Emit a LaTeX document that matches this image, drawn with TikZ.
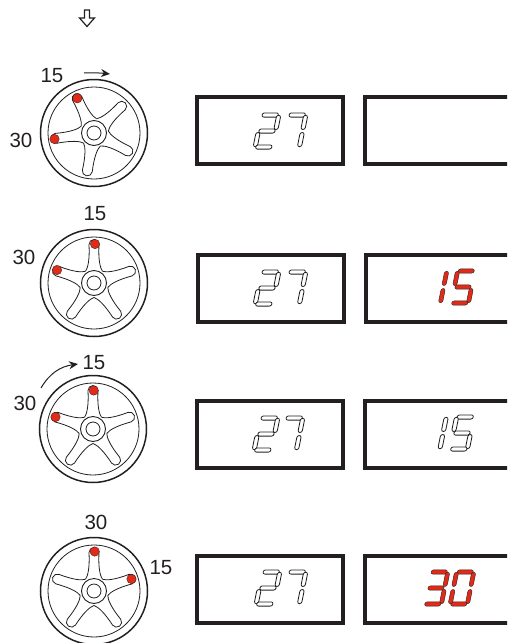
\documentclass[tikz,border=0pt]{standalone}
\usepackage{fontspec}
\setmainfont{Liberation Sans}
\usetikzlibrary{arrows.meta}
\definecolor{ledred}{RGB}{226,42,24}
\definecolor{inkdark}{RGB}{35,31,32}
% segments of one digit, around its centre
\def\hseg#1{(-6,#1) -- ++(12,0) arc[start angle=-90, end angle=90, radius=2.1] -- ++(-12,0) arc[start angle=90, end angle=270, radius=2.1] -- cycle}
\def\vseg#1#2{(#1,#2) arc[start angle=180, end angle=360, radius=2.1] -- ++(0,10) arc[start angle=0, end angle=180, radius=2.1] -- cycle}
\def\sega{\hseg{13.9}}
\def\segb{\vseg{6.5}{3.6}}
\def\segc{\vseg{6.5}{-13.6}}
\def\segd{\hseg{-18.1}}
\def\sege{\vseg{-10.7}{-13.6}}
\def\segf{\vseg{-10.7}{3.6}}
\def\segg{\hseg{-2.1}}
\tikzset{
    pics/wheel/.style={code={
        \draw[inkdark, line width=1.5pt] (0,0) circle (53.5);
        \draw[inkdark, line width=.8pt] (0,0) circle (46);
        \draw[inkdark, line width=.9pt] (0,0) circle (12.5);
        \draw[inkdark, line width=.8pt] (0,0) circle (7);
        \foreach \spoke in {0,72,...,288}{
            \draw[inkdark, line width=.8pt, rotate=#1+\spoke]
                (-36:14.5) .. controls (15,-6) and (24,-4.2) .. (38.5,-5)
                arc[start angle=-90, end angle=90, radius=5]
                .. controls (24,4.2) and (15,6) .. (36:14.5);
        }
    }},
    pics/digit/.style 2 args={code={
        \begin{scope}[xslant=.2]
        \foreach \seg in {#1}{
            \draw[#2] \seg;
        }
        \end{scope}
    }},
}
\begin{document}
\begin{tikzpicture}[
        x=1pt, y=1pt,
        label15/.style={font=\fontsize{20.5}{20.5}\selectfont, text=inkdark, inner sep=0pt},
        dispbox/.style={draw=inkdark, line width=4pt, fill=white, inner sep=0pt, minimum height=67pt},
        leftbox/.style={dispbox, minimum width=146pt},
        rightbox/.style={dispbox, minimum width=160pt},
        segoff/.style={draw=inkdark, line width=.8pt, fill=white},
        segon/.style={draw=inkdark, line width=.4pt, fill=ledred},
        pindot/.style={circle, draw=inkdark, line width=.3pt, fill=ledred, minimum size=9.5pt, inner sep=0pt},
        turn/.style={draw=inkdark, line width=1pt, -{Stealth[length=9pt, width=8pt]}},
    ]
    \clip (0,-643) rectangle (507,0);
    \useasboundingbox (0,-643) rectangle (507,0);

    % hollow arrow on top
    \draw[inkdark, line width=1.2pt, line join=miter] (84.5,-10) -- (89.5,-10) -- (89.5,-18) -- (94.5,-18)
        -- (87,-26.5) -- (79.5,-18) -- (84.5,-18) -- cycle;

    % wheels
    \pic at (94,-133) {wheel=44};
    \pic at (94,-283) {wheel=18};
    \pic at (93,-429) {wheel=18};
    \pic at (94,-591) {wheel=18};

    % balance weights
    \node[pindot] (dot1a) at (77.3,-98.3) {};
    \node[pindot] (dot1b) at (54.5,-139) {};
    \node[pindot] (dot2a) at (95,-244) {};
    \node[pindot] (dot2b) at (57,-270) {};
    \node[pindot] (dot3a) at (93.7,-390.5) {};
    \node[pindot] (dot3b) at (55.5,-417) {};
    \node[pindot] (dot4a) at (94.7,-551.5) {};
    \node[pindot] (dot4b) at (131.5,-579) {};

    % labels
    \node[label15] (l15a) at (52,-76) {15};
    \node[label15] (l30a) at (21,-140) {30};
    \node[label15] (l15b) at (95,-214) {15};
    \node[label15] (l30b) at (24,-257) {30};
    \node[label15] (l15c) at (94,-363) {15};
    \node[label15] (l30c) at (25,-403) {30};
    \node[label15] (l30d) at (96,-522) {30};
    \node[label15] (l15d) at (161,-568) {15};

    % turning arrows
    \coordinate (turna1) at (84,-73);
    \coordinate (turna2) at (110,-74);
    \coordinate (turnc1) at (41,-388);
    \coordinate (turnc2) at (78,-364);
    \draw[turn] (turna1) to[bend left=4] (turna2);
    \draw[turn] (turnc1) to[out=60, in=188] (turnc2);

    % displays
    \node[leftbox] (disp1l) at (270,-130.5) {};
    \node[rightbox, anchor=west] (disp1r) at (363,-130.5) {};
    \node[leftbox] (disp2l) at (270.5,-288) {};
    \node[rightbox, anchor=west] (disp2r) at (364,-288) {};
    \node[leftbox] (disp3l) at (270,-434.5) {};
    \node[rightbox, anchor=west] (disp3r) at (363,-434.5) {};
    \node[leftbox] (disp4l) at (270,-589) {};
    \node[rightbox, anchor=west] (disp4r) at (363,-589) {};

    % digits
    \pic at (267,-131) {digit={\sega,\segb,\segg,\sege,\segd}{segoff}};
    \pic at (294,-131) {digit={\sega,\segb,\segc}{segoff}};
    \pic at (267,-288) {digit={\sega,\segb,\segg,\sege,\segd}{segoff}};
    \pic at (294,-288) {digit={\sega,\segb,\segc}{segoff}};
    \pic at (266,-434) {digit={\sega,\segb,\segg,\sege,\segd}{segoff}};
    \pic at (291,-434) {digit={\sega,\segb,\segc}{segoff}};
    \pic at (268,-588) {digit={\sega,\segb,\segg,\sege,\segd}{segoff}};
    \pic at (294,-588) {digit={\sega,\segb,\segc}{segoff}};

    \pic at (435,-287) {digit={\segb,\segc}{segon}};
    \pic at (463,-287) {digit={\sega,\segf,\segg,\segc,\segd}{segon}};
    \pic at (434.5,-433) {digit={\segb,\segc}{segoff}};
    \pic at (462,-433) {digit={\sega,\segf,\segg,\segc,\segd}{segoff}};
    \pic at (436,-588) {digit={\sega,\segb,\segg,\segc,\segd}{segon}};
    \pic at (462,-588) {digit={\sega,\segb,\segc,\segd,\sege,\segf}{segon}};
\end{tikzpicture}
\end{document}
